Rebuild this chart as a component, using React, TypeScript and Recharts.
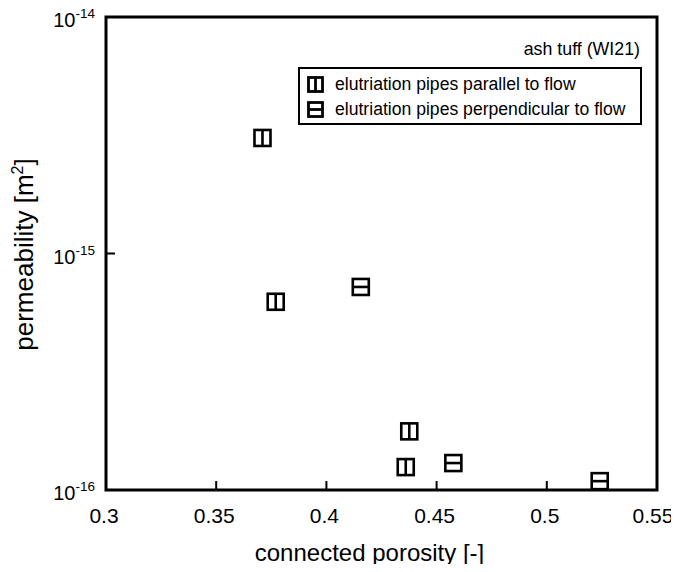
import React from 'react';
import {
  ScatterChart, Scatter, XAxis, YAxis, ReferenceArea, Legend, Label,
} from 'recharts';

// ── Data ───────────────────────────────────────────────────────────────────
const parallelPorosity = [0.371, 0.377, 0.4376, 0.436];
const parallelPerm = [3.08e-15, 6.25e-16, 1.77e-16, 1.25e-16];

const perpPorosity = [0.4156, 0.4576, 0.524];
const perpPerm = [7.22e-16, 1.3e-16, 1.09e-16];

const xTicks = [0.3, 0.35, 0.4, 0.45, 0.5, 0.55];
const yTicks = [1e-16, 1e-15, 1e-14];
const yExponents = ['-16', '-15', '-14'];

const seriesNames = ['elutriation pipes parallel to flow', 'elutriation pipes perpendicular to flow'];
const sampleTitle = 'ash tuff (WI21)';

const FONT = '"Liberation Sans", Arial, Helvetica, sans-serif';

const parallelData = parallelPorosity.map((x, i) => ({ x, y: parallelPerm[i] }));
const perpData = perpPorosity.map((x, i) => ({ x, y: perpPerm[i] }));

// ── Marker glyphs ──────────────────────────────────────────────────────────
function BoxMarker({ cx, cy, size, vertical, sw }: { cx: number; cy: number; size: number; vertical: boolean; sw: number }) {
  const h = size / 2;
  return (
    <g stroke="#000" strokeWidth={sw} fill="none">
      <rect x={cx - h} y={cy - h} width={size} height={size} />
      {vertical
        ? <line x1={cx} y1={cy - h} x2={cx} y2={cy + h} />
        : <line x1={cx - h} y1={cy} x2={cx + h} y2={cy} />}
    </g>
  );
}

function XTick({ x, y, payload, index }: any) {
  // last label sits a little left of its tick, as in the source figure
  const shift = index === xTicks.length - 1 ? -4 : -2;
  return (
    <text x={x + shift} y={y} textAnchor="middle" fontSize={21} fontFamily={FONT} fill="#000">
      {String(payload.value)}
    </text>
  );
}

function YTick({ x, y, index }: any) {
  return (
    <text x={x} y={y + 10} textAnchor="end" fontSize={20} fontFamily={FONT} fill="#000">
      <tspan>10</tspan>
      <tspan dy={-9} fontSize={13.5}>{yExponents[index]}</tspan>
    </text>
  );
}

function LegendBox() {
  return (
    <div style={{ position: 'relative', width: 344, height: 90, fontFamily: FONT, color: '#000' }}>
      <div style={{ position: 'absolute', right: 2, top: 0, fontSize: 17.8, lineHeight: '17px', whiteSpace: 'nowrap' }}>
        {sampleTitle}
      </div>
      <div
        style={{
          position: 'absolute', left: 0, top: 26, width: 344, height: 58, boxSizing: 'border-box',
          border: '2px solid #000', padding: '3px 0 0 7px',
        }}
      >
        {seriesNames.map((name, i) => (
          <div key={name} style={{ display: 'flex', alignItems: 'center', height: 25 }}>
            <svg width={17} height={17} style={{ display: 'block', marginRight: 11 }}>
              <BoxMarker cx={8.5} cy={8.5} size={14} vertical={i === 0} sw={2.8} />
            </svg>
            <span style={{ fontSize: 17.6, whiteSpace: 'nowrap' }}>{name}</span>
          </div>
        ))}
      </div>
    </div>
  );
}

export default function App() {
  return (
    <div style={{ position: 'relative', width: 671, height: 556 }}>
      <style>{'.recharts-surface{overflow:visible}'}</style>
      <ScatterChart width={671} height={556} margin={{ top: 9, right: 22, bottom: 44, left: 38 }}>
        <XAxis
          type="number"
          dataKey="x"
          domain={[0.3, 0.55]}
          ticks={xTicks}
          allowDataOverflow
          axisLine={false}
          tickSize={-9}
          tickMargin={42}
          tickLine={{ stroke: '#000', strokeWidth: 2 }}
          tick={<XTick />}
          height={30}
        >
          <Label
            content={({ viewBox }: any) => (
              <text
                x={viewBox.x + viewBox.width / 2 - 12}
                y={553}
                textAnchor="middle"
                fontSize={24}
                fontFamily={FONT}
                fill="#000"
              >
                connected porosity [-]
              </text>
            )}
          />
        </XAxis>
        <YAxis
          type="number"
          dataKey="y"
          scale="log"
          domain={[1e-16, 1e-14]}
          ticks={yTicks}
          allowDataOverflow
          axisLine={false}
          tickSize={-9}
          tickMargin={20}
          tickLine={{ stroke: '#000', strokeWidth: 2 }}
          tick={<YTick />}
          width={60}
        >
          <Label
            content={({ viewBox }: any) => {
              const cy = viewBox.y + viewBox.height / 2 + 1;
              return (
                <text
                  x={25}
                  y={cy}
                  transform={`rotate(-90 25 ${cy})`}
                  textAnchor="middle"
                  fontSize={26}
                  fontFamily={FONT}
                  fill="#000"
                >
                  <tspan>permeability [m</tspan>
                  <tspan dy={-10} fontSize={16}>2</tspan>
                  <tspan dy={10}>]</tspan>
                </text>
              );
            }}
          />
        </YAxis>
        <ReferenceArea
          x1={0.3}
          x2={0.55}
          y1={1e-16}
          y2={1e-14}
          fill="none"
          fillOpacity={0}
          stroke="#000"
          strokeWidth={3}
          ifOverflow="visible"
        />
        <Scatter
          name={seriesNames[0]}
          data={parallelData}
          isAnimationActive={false}
          shape={(p: any) => <BoxMarker cx={p.cx} cy={p.cy} size={16} vertical sw={2.6} />}
        />
        <Scatter
          name={seriesNames[1]}
          data={perpData}
          isAnimationActive={false}
          shape={(p: any) => <BoxMarker cx={p.cx} cy={p.cy} size={16} vertical={false} sw={2.6} />}
        />
        <Legend
          layout="horizontal"
          verticalAlign="middle"
          align="center"
          content={() => <LegendBox />}
          wrapperStyle={{ position: 'absolute', left: 290, top: 33, width: 344, height: 90 }}
        />
      </ScatterChart>
    </div>
  );
}
